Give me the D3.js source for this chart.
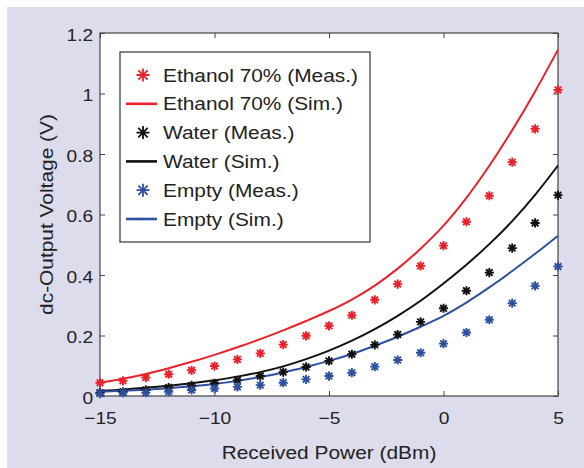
<!DOCTYPE html>
<html>
<head>
<meta charset="utf-8">
<script src="https://cdn.jsdelivr.net/npm/d3@7"></script>
<style>
  body { margin: 0; background: #fff; }
  text { font-family: "Liberation Sans", Arial, sans-serif; fill: #222; }
</style>
</head>
<body>
<script>
// data (received power in dBm, dc voltage in V)
const power = [-15, -14, -13, -12, -11, -10, -9, -8, -7, -6, -5, -4, -3, -2, -1, 0, 1, 2, 3, 4, 5];

const ethanolMeas = [0.044, 0.050, 0.061, 0.072, 0.085, 0.099, 0.121, 0.141, 0.170, 0.199, 0.232,
                     0.267, 0.318, 0.370, 0.430, 0.497, 0.576, 0.662, 0.773, 0.883, 1.012];
const ethanolSim  = [0.044, 0.057, 0.073, 0.092, 0.113, 0.136, 0.161, 0.188, 0.217, 0.248, 0.281,
                     0.319, 0.365, 0.421, 0.487, 0.563, 0.655, 0.761, 0.879, 1.007, 1.145];
const waterMeas   = [0.011, 0.014, 0.020, 0.028, 0.035, 0.042, 0.052, 0.066, 0.079, 0.096, 0.116,
                     0.138, 0.169, 0.203, 0.245, 0.290, 0.348, 0.408, 0.489, 0.572, 0.664];
const waterSim    = [0.017, 0.021, 0.027, 0.034, 0.042, 0.052, 0.064, 0.079, 0.098, 0.122, 0.150,
                     0.183, 0.221, 0.265, 0.315, 0.372, 0.434, 0.502, 0.578, 0.665, 0.762];
const emptyMeas   = [0.008, 0.011, 0.011, 0.014, 0.020, 0.025, 0.030, 0.036, 0.044, 0.055, 0.066,
                     0.077, 0.097, 0.119, 0.143, 0.173, 0.210, 0.252, 0.307, 0.364, 0.428];
const emptySim    = [0.014, 0.017, 0.021, 0.026, 0.032, 0.040, 0.050, 0.063, 0.078, 0.096, 0.116,
                     0.139, 0.166, 0.196, 0.229, 0.265, 0.309, 0.359, 0.413, 0.470, 0.530];

const xTicks = [-15, -10, -5, 0, 5];
const yTicks = [0, 0.2, 0.4, 0.6, 0.8, 1, 1.2];
const yLabels = ["0", "0.2", "0.4", "0.6", "0.8", "1", "1.2"];

const legendLabels = ["Ethanol 70% (Meas.)", "Ethanol 70% (Sim.)", "Water (Meas.)",
                      "Water (Sim.)", "Empty (Meas.)", "Empty (Sim.)"];

const RED = "#e8222a", BLACK = "#111", BLUE = "#2f4f9f";

const series = [
  { values: ethanolMeas, kind: "meas", color: RED },
  { values: ethanolSim,  kind: "sim",  color: RED },
  { values: waterMeas,   kind: "meas", color: BLACK },
  { values: waterSim,    kind: "sim",  color: BLACK },
  { values: emptyMeas,   kind: "meas", color: BLUE },
  { values: emptySim,    kind: "sim",  color: BLUE }
];

const W = 584, H = 468;
const sx = 1.13; // the original lettering is a bit wider than Arial

const svg = d3.select("body").append("svg")
  .attr("width", W)
  .attr("height", H);

// lavender panel
svg.append("rect")
  .attr("x", 7).attr("y", 7)
  .attr("width", W - 7).attr("height", H - 7)
  .attr("fill", "#dddcec");

const x = d3.scaleLinear().domain([-15, 5]).range([100, 558]);
const y = d3.scaleLinear().domain([0, 1.2]).range([396, 33]);

svg.append("rect")
  .attr("x", x(-15)).attr("y", y(1.2))
  .attr("width", x(5) - x(-15)).attr("height", y(0) - y(1.2))
  .attr("fill", "#fff");

// axes, ticks pointing inward
const styleAxis = g => {
  g.select(".domain").remove();
  g.selectAll(".tick line").attr("stroke", "#444");
  g.selectAll(".tick text")
    .attr("font-size", 17)
    .attr("fill", "#222")
    .attr("font-family", "Liberation Sans, Arial, sans-serif")
    .attr("transform", `scale(${sx},1)`);
};

svg.append("g")
  .attr("transform", `translate(0,${y(0)})`)
  .call(d3.axisBottom(x).tickValues(xTicks).tickSizeInner(-5).tickSizeOuter(0).tickPadding(16)
          .tickFormat(d3.format("d")))
  .call(styleAxis);

svg.append("g")
  .attr("transform", `translate(0,${y(1.2)})`)
  .call(d3.axisTop(x).tickValues(xTicks).tickSizeInner(-5).tickSizeOuter(0).tickFormat(""))
  .call(styleAxis);

svg.append("g")
  .attr("transform", `translate(${x(-15)},0)`)
  .call(d3.axisLeft(y).tickValues(yTicks).tickSizeInner(-5).tickSizeOuter(0).tickPadding(6)
          .tickFormat((d, i) => yLabels[i]))
  .call(styleAxis)
  .selectAll(".tick text").attr("dy", "0.42em");

svg.append("g")
  .attr("transform", `translate(${x(5)},0)`)
  .call(d3.axisRight(y).tickValues(yTicks).tickSizeInner(-5).tickSizeOuter(0).tickFormat(""))
  .call(styleAxis);

svg.append("rect")
  .attr("x", x(-15)).attr("y", y(1.2))
  .attr("width", x(5) - x(-15)).attr("height", y(0) - y(1.2))
  .attr("fill", "none")
  .attr("stroke", "#444")
  .attr("stroke-width", 1.2);

// axis titles
svg.append("text")
  .attr("transform", `translate(${(x(-15) + x(5)) / 2},459) scale(${sx},1)`)
  .attr("text-anchor", "middle")
  .attr("font-size", 18.5)
  .text("Received Power (dBm)");

svg.append("text")
  .attr("transform", `translate(53,${(y(0) + y(1.2)) / 2}) rotate(-90) scale(${sx},1)`)
  .attr("text-anchor", "middle")
  .attr("font-size", 18.5)
  .text("dc-Output Voltage (V)");

// asterisk marker (plus + cross)
const star = r => {
  const k = r * 0.72;
  return `M${-r},0H${r}M0,${-r}V${r}M${-k},${-k}L${k},${k}M${-k},${k}L${k},${-k}`;
};

const line = d3.line()
  .x((d, i) => x(power[i]))
  .y(d => y(d))
  .curve(d3.curveMonotoneX);

const plot = svg.append("g");

series.filter(s => s.kind === "sim").forEach(s => {
  plot.append("path")
    .datum(s.values)
    .attr("fill", "none")
    .attr("stroke", s.color)
    .attr("stroke-width", 2)
    .attr("d", line);
});

series.filter(s => s.kind === "meas").forEach(s => {
  plot.append("g")
    .selectAll("path")
    .data(s.values)
    .enter()
    .append("path")
    .attr("transform", (d, i) => `translate(${x(power[i])},${y(d)})`)
    .attr("d", star(4.6))
    .attr("fill", "none")
    .attr("stroke", s.color)
    .attr("stroke-width", 1.9);
});

// legend
const legend = svg.append("g").attr("id", "legend");

legend.append("rect")
  .attr("x", 120).attr("y", 52)
  .attr("width", 250).attr("height", 190)
  .attr("fill", "#fff")
  .attr("stroke", "#333")
  .attr("stroke-width", 1.2);

const rows = legend.selectAll("g.row")
  .data(series)
  .enter()
  .append("g")
  .attr("class", "row")
  .attr("transform", (d, i) => `translate(0,${75 + i * 28.8})`);

rows.filter(d => d.kind === "meas")
  .append("path")
  .attr("transform", "translate(143,0)")
  .attr("d", star(6.5))
  .attr("fill", "none")
  .attr("stroke", d => d.color)
  .attr("stroke-width", 1.8);

rows.filter(d => d.kind === "sim")
  .append("line")
  .attr("x1", 126).attr("x2", 157)
  .attr("stroke", d => d.color)
  .attr("stroke-width", 2.6);

rows.append("text")
  .attr("transform", `translate(163,6.6) scale(${sx},1)`)
  .attr("font-size", 18.5)
  .text((d, i) => legendLabels[i]);
</script>
</body>
</html>
